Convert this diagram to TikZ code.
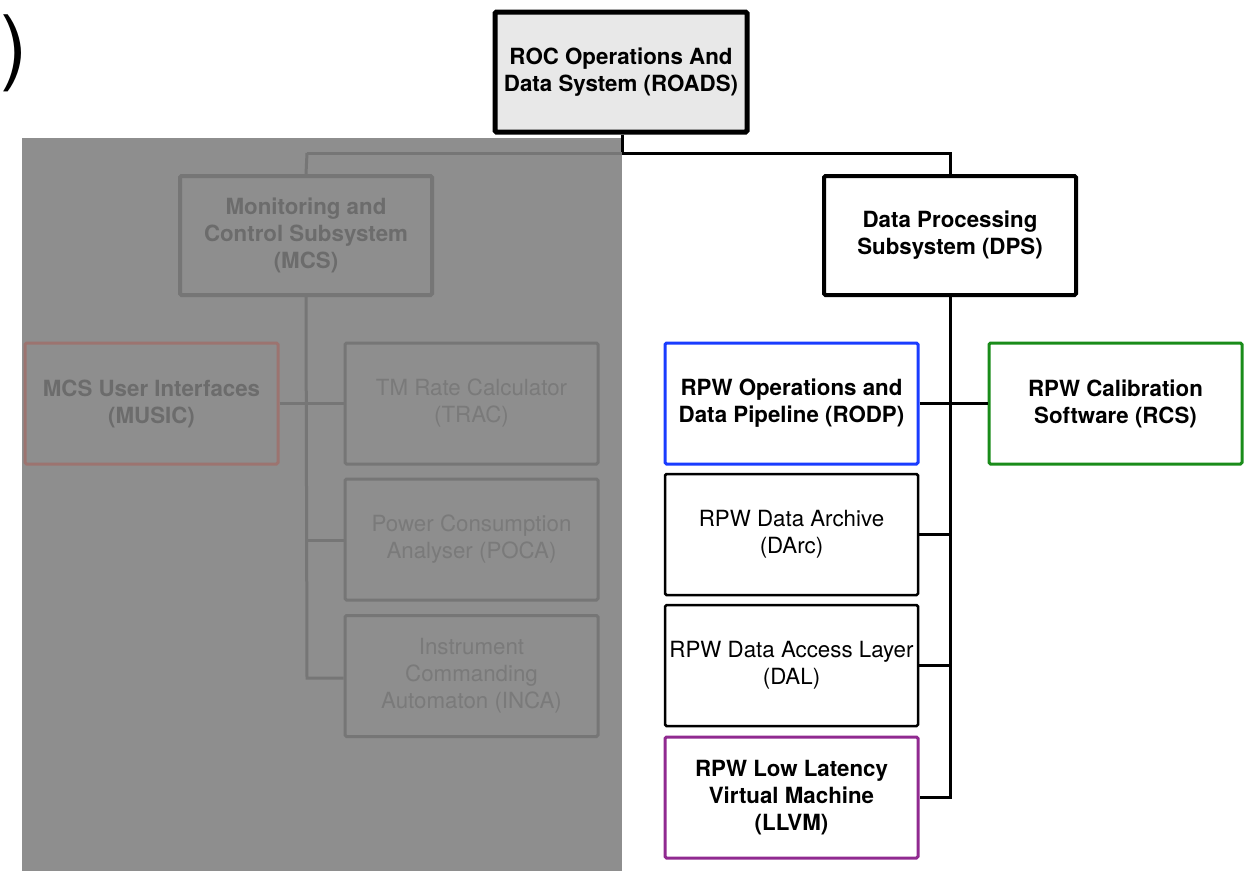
\documentclass[tikz,border=0pt]{standalone}
\usepackage{fontspec}
\setmainfont{TeX Gyre Heros}
\definecolor{ovl}{HTML}{8E8E8E}
\definecolor{gline}{HTML}{767676}
\definecolor{gtextb}{HTML}{6C6C6C}
\definecolor{gtext}{HTML}{7A7A7A}
\definecolor{gred}{HTML}{9C7470}
\definecolor{rblue}{HTML}{1A3CFF}
\definecolor{rgreen}{HTML}{1A8C1A}
\definecolor{rpurple}{HTML}{902A90}
\definecolor{roadsfill}{HTML}{E8E8E8}
\tikzset{
  box/.style={draw, rectangle, rounded corners=1.5pt, align=center, inner sep=0pt,
    minimum width=253pt, minimum height=121pt, font=\fontsize{22.3}{27}\selectfont},
  boldbox/.style={box, font=\fontsize{22.3}{27}\selectfont\bfseries},
  conn/.style={line width=3pt},
  gconn/.style={line width=3pt, draw=gline},
}
\begin{document}
\begin{tikzpicture}[x=1pt,y=-1pt]
\useasboundingbox (0,0) rectangle (1245,871);
% partial label
\node[inner sep=0pt, anchor=west, font=\fontsize{82}{82}\selectfont] (paren) at (0,53) {)};
% overlay
\fill[ovl] (22,138) rectangle (622,871);
% ROADS
\node[boldbox, fill=roadsfill, line width=5pt, minimum width=252pt, minimum height=120pt] (roads) at (621,72) {ROC Operations And\\Data System (ROADS)};
% MCS side (greyed)
\node[boldbox, draw=gline, text=gtextb, line width=4pt, minimum width=252pt, minimum height=119pt] (mcs) at (306,235.5) {Monitoring and\\Control Subsystem\\(MCS)};
\node[boldbox, draw=gred, text=gtextb, line width=3pt] (music) at (151.5,403.5) {MCS User Interfaces\\(MUSIC)};
\node[box, draw=gline, text=gtext, line width=3pt] (trac) at (471.5,403.5) {TM Rate Calculator\\(TRAC)};
\node[box, draw=gline, text=gtext, line width=3pt] (poca) at (471.5,539.5) {Power Consumption\\Analyser (POCA)};
\node[box, draw=gline, text=gtext, line width=3pt] (inca) at (471.5,676) {Instrument\\Commanding\\Automaton (INCA)};
\coordinate (mcsj1) at (307,153);
\coordinate (mcsend) at (307,678);
\draw[gconn] (mcs.south) -- (mcsend) -- (inca.west |- mcsend);
\draw[gconn] (music.east) -- (trac.west);
\draw[gconn] (307,540) -- (poca.west |- 0,540);
\draw[gconn] (mcsj1) -- (mcs.north);
% DPS side
\coordinate (rj) at (622,153);
\coordinate (dj) at (950,153);
\draw[conn] (roads.south -| rj) -- (rj) -- (dj) -- (dj |- 175,175);
\draw[gconn] (mcsj1) -- (622,153);
\node[boldbox, line width=4pt, minimum width=252pt, minimum height=119pt] (dps) at (950,235.5) {Data Processing\\Subsystem (DPS)};
\node[boldbox, draw=rblue, line width=3pt] (rodp) at (791.5,403.5) {RPW Operations and\\Data Pipeline (RODP)};
\node[boldbox, draw=rgreen, line width=3pt] (rcs) at (1115.5,403.5) {RPW Calibration\\Software (RCS)};
\node[box, line width=2.5pt] (darc) at (791.5,534.5) {RPW Data Archive\\(DArc)};
\node[box, line width=2.5pt] (dal) at (791.5,665.5) {RPW Data Access Layer\\(DAL)};
\node[boldbox, draw=rpurple, line width=3pt] (llvm) at (791.5,797.5) {RPW Low Latency\\Virtual Machine\\(LLVM)};
\coordinate (dend) at (950,797.5);
\draw[conn] (dps.south) -- (dend) -- (llvm.east);
\draw[conn] (rodp.east) -- (rcs.west);
\draw[conn] (darc.east) -- (darc.east -| dend);
\draw[conn] (dal.east) -- (dal.east -| dend);
\end{tikzpicture}
\end{document}
